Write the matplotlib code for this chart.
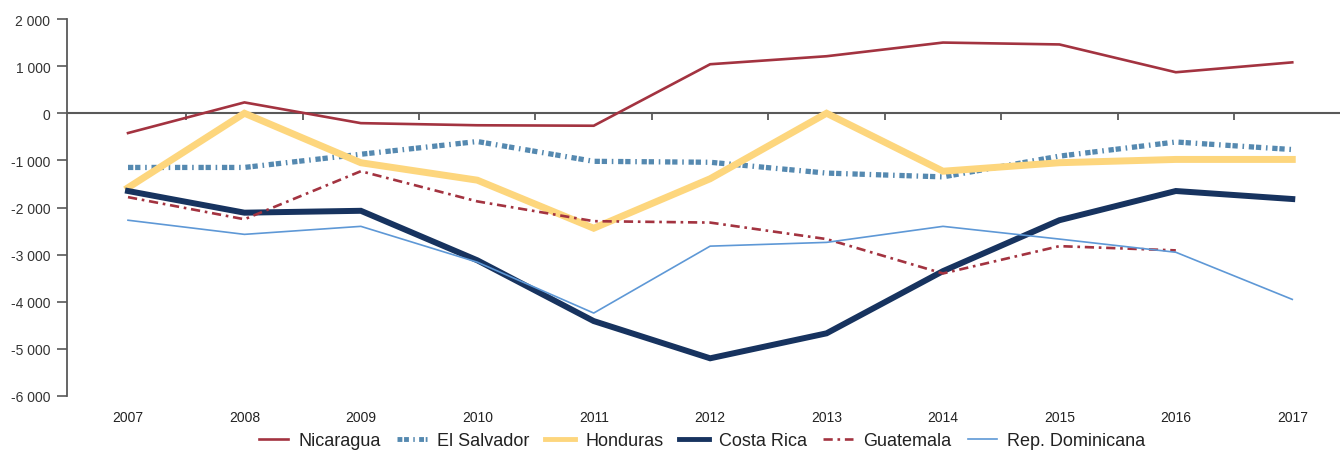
import matplotlib
matplotlib.use("Agg")
import matplotlib.pyplot as plt
import numpy as np

years = ["2007", "2008", "2009", "2010", "2011", "2012", "2013", "2014", "2015", "2016", "2017"]
nicaragua = [-420, 230, -210, -255, -265, 1040, 1210, 1500, 1460, 870, 1080]
el_salvador = [-1150, -1150, -870, -600, -1020, -1040, -1270, -1350, -910, -610, -770]
honduras = [-1580, 0, -1050, -1420, -2440, -1390, 0, -1230, -1050, -980, -980]
costa_rica = [-1650, -2110, -2070, -3120, -4410, -5200, -4670, -3350, -2270, -1650, -1820]
guatemala = [-1780, -2250, -1230, -1870, -2290, -2320, -2670, -3400, -2820, -2910, np.nan]
rep_dominicana = [-2270, -2570, -2400, -3160, -4240, -2820, -2740, -2400, -2670, -2950, -3950]
y_ticks = [2000, 1000, 0, -1000, -2000, -3000, -4000, -5000, -6000]

plt.rcParams['font.family'] = ['Liberation Sans', 'DejaVu Sans']

fig = plt.figure(figsize=(13.4, 4.52), dpi=100)
ax = fig.add_axes([67/1340, 55/452, 1 - 67/1340, (397-20)/452])

x = np.arange(len(years))
ax.plot(x, nicaragua, color='#A33340', lw=1.9, label='Nicaragua', solid_joinstyle='miter')
ax.plot(x, el_salvador, color='#5589B0', lw=3.8, label='El Salvador',
        linestyle=(0, (1.0, 0.35, 1.0, 0.9, 0.3, 0.9)), dash_capstyle='butt')
ax.plot(x, honduras, color='#FDD67D', lw=5.0, label='Honduras', solid_joinstyle='miter')
ax.plot(x, costa_rica, color='#17335F', lw=4.3, label='Costa Rica', solid_joinstyle='miter')
ax.plot(x, guatemala, color='#A33340', lw=1.9, label='Guatemala',
        linestyle=(0, (3.5, 1.8, 1.0, 1.8)), dash_capstyle='butt')
ax.plot(x, rep_dominicana, color='#5E98D6', lw=1.2, label='Rep. Dominicana')

ax.set_xlim(-0.524, 10.41)
ax.set_ylim(-6000, 2000)

# zero line with category-boundary ticks
ax.axhline(0, color='#595959', lw=1.5, zorder=0.5)
bounds = x[:-1] + 0.5
ax.vlines(bounds, -135, 0, color='#595959', lw=1.3, zorder=0.5)

for s in ['top', 'right', 'bottom']:
    ax.spines[s].set_visible(False)
ax.spines['left'].set_color('#595959')
ax.spines['left'].set_linewidth(1.3)

ax.set_yticks(y_ticks)
ax.set_yticklabels([f"{v:,}".replace(",", " ") for v in y_ticks])
ax.tick_params(axis='y', length=7, width=1.2, color='#595959', labelsize=10, labelcolor='#333333', pad=5)
ax.set_xticks(x)
ax.set_xticklabels(years)
ax.tick_params(axis='x', length=0, labelsize=10, labelcolor='#222222', pad=10)

leg = fig.legend(loc='center', bbox_to_anchor=(702/1340, 1 - 442/452), ncol=6, frameon=False,
                 fontsize=13, handlelength=1.65, handletextpad=0.55, columnspacing=0.9,
                 borderpad=0, labelcolor='#222222')
for h in leg.legend_handles:
    h.set_linewidth(min(h.get_linewidth(), 3.5))

fig.savefig('out.png', dpi=100)
